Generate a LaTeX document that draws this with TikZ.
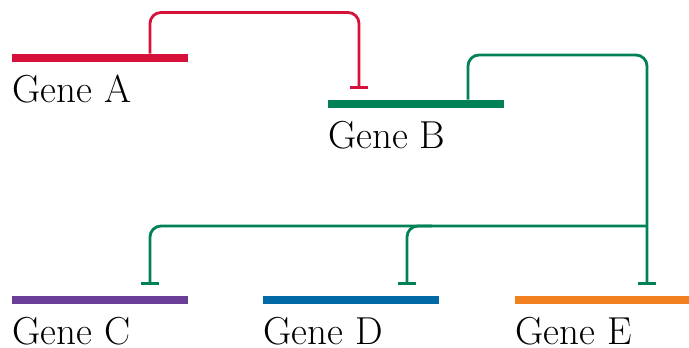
\documentclass[tikz,border=0pt]{standalone}
\usepackage{tikz}
\usetikzlibrary{arrows.meta}

\definecolor{geneRed}{RGB}{215,18,58}
\definecolor{geneGreen}{RGB}{0,130,84}
\definecolor{genePurple}{RGB}{106,62,150}
\definecolor{geneBlue}{RGB}{0,106,166}
\definecolor{geneOrange}{RGB}{243,128,30}

\begin{document}
\begin{tikzpicture}[x=1pt,y=-1pt,
	gene/.style={rectangle, minimum width=176pt, minimum height=8.5pt, inner sep=0pt},
	genename/.style={anchor=base west, inner sep=0pt, font=\fontsize{39}{44}\selectfont},
	repress/.style={line width=2.8pt, rounded corners=11pt, shorten >=10.5pt, -{Bar[width=18pt]}},
]

% frame %{{{2

	\useasboundingbox (0,0) rectangle (689,348);

% genes %{{{2

	\node[gene, fill=geneRed]    (A) at (100,58)    {};
	\node[gene, fill=geneGreen]  (B) at (415.5,104) {};
	\node[gene, fill=genePurple] (C) at (100,300)   {};
	\node[gene, fill=geneBlue]   (D) at (351,300)   {};
	\node[gene, fill=geneOrange] (E) at (603,300)   {};

% gene labels %{{{2

	\foreach \g in {A,B,C,D,E} {
		\node[genename] (name\g) at ([xshift=0.5pt, yshift=-44pt]\g.west) {Gene \g};
	}

% corners %{{{2

	\coordinate (r1) at (150,12.5);
	\coordinate (r2) at (359,12.5);

	\coordinate (g1) at (468,55);
	\coordinate (g2) at (647,55);

	\coordinate (h1) at (647,226);
	\coordinate (h2) at (150,226);
	\coordinate (h3) at (407,226);

% A represses B %{{{2

	\draw[repress, geneRed] (A.north -| r1) -- (r1) -- (r2) -- (B.north -| r2);

% B represses C, D, E %{{{2

	\draw[repress, geneGreen] (B.north -| g1) -- (g1) -- (g2) -- (E.north -| g2);
	\draw[repress, geneGreen] (h1) -- (h2) -- (C.north -| h2);
	\draw[repress, geneGreen] ([xshift=25pt]h3) -- (h3) -- (D.north -| h3);

% closing %{{{2

\end{tikzpicture}
\end{document}
